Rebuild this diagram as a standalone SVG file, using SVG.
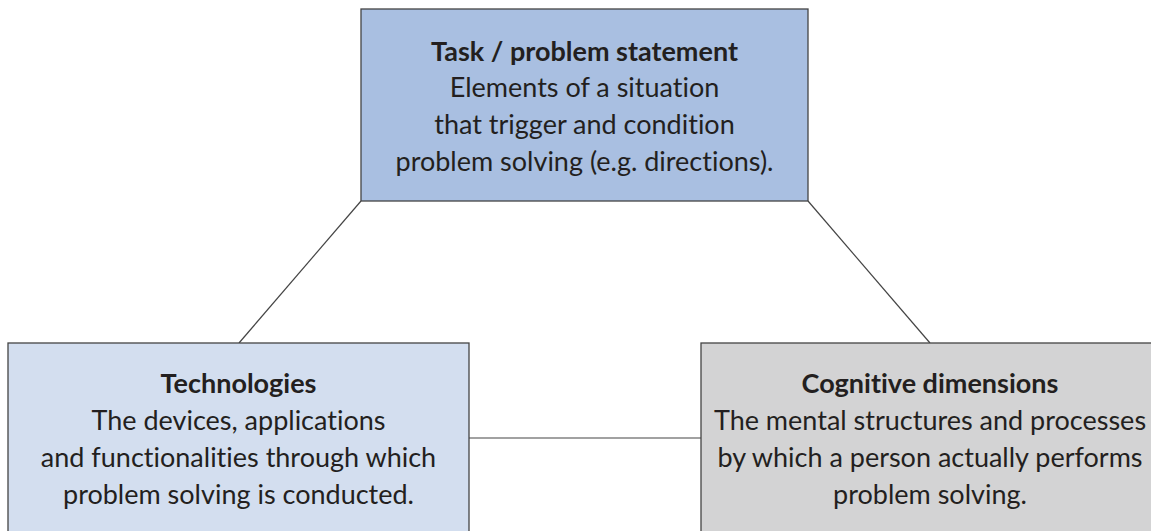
<svg xmlns="http://www.w3.org/2000/svg" width="1151" height="531" viewBox="0 0 1151 531">
<style>
.box{stroke:#444;stroke-width:1.3}
.t{font-family:Lato,"Open Sans","Liberation Sans",sans-serif;font-size:27px;fill:#231f20;text-anchor:middle;font-variant-ligatures:none}
.b{font-weight:bold}
.c{stroke:#444;stroke-width:1.2;fill:none}
</style>
<rect width="1151" height="531" fill="#fff"/>
<g id="connectors">
<line class="c" x1="361" y1="201" x2="239" y2="343"/>
<line class="c" x1="808" y1="201" x2="930" y2="343"/>
<line class="c" x1="469" y1="438" x2="701" y2="438"/>
</g>
<g id="task">
<rect class="box" x="361" y="9" width="447" height="192" fill="#a9bfe1"/>
<text class="t b" x="584.5" y="61">Task / problem statement</text>
<text class="t" x="584.5" y="97">Elements of a situation</text>
<text class="t" x="584.5" y="134">that trigger and condition</text>
<text class="t" x="584.5" y="171">problem solving (e.g. directions).</text>
</g>
<g id="technologies">
<rect class="box" x="8" y="343" width="461" height="200" fill="#d3deef"/>
<text class="t b" x="238.5" y="393">Technologies</text>
<text class="t" x="238.5" y="430">The devices, applications</text>
<text class="t" x="238.5" y="467">and functionalities through which</text>
<text class="t" x="238.5" y="504">problem solving is conducted.</text>
</g>
<g id="cognitive">
<rect class="box" x="701" y="343" width="460" height="200" fill="#d3d3d4"/>
<text class="t b" x="930" y="393">Cognitive dimensions</text>
<text class="t" x="930" y="430">The mental structures and processes</text>
<text class="t" x="930" y="467">by which a person actually performs</text>
<text class="t" x="930" y="504">problem solving.</text>
</g>
</svg>
